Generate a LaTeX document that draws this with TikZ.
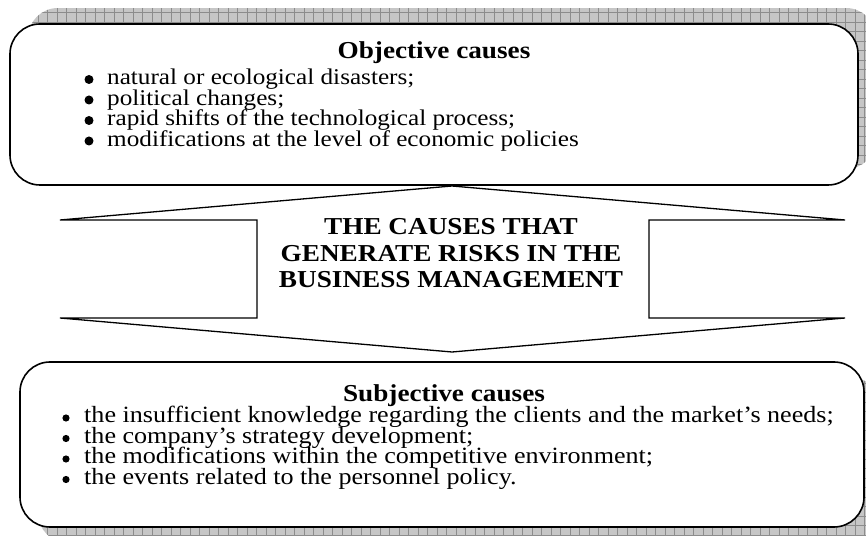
\documentclass[tikz,border=0pt]{standalone}
\usepackage{fontspec}
\setmainfont[FakeStretch=1.12]{Liberation Serif}
\definecolor{CsGrid}{HTML}{C6C6C6}
\definecolor{CsLine}{HTML}{8C8C8C}

\begin{document}
\begin{tikzpicture}[
    x=1pt,y=1pt,
    causebox/.style={draw=black,line width=1.6pt,fill=white,rounded corners=30pt,inner sep=0pt},
    callout/.style={draw=black,line width=1.3pt,fill=white,line join=miter},
    head/.style={font=\fontsize{24.3}{26.5}\selectfont\bfseries,inner sep=0pt,anchor=base},
    item/.style={inner sep=0pt,anchor=base west}
  ]
    \useasboundingbox (0,0) rectangle (866,535);
    % gridded shadows behind the two boxes
    \begin{scope}
      \clip (0,0) rectangle (866,535);
      \foreach \sx/\sy/\ex/\ey in {28/366/876/527, 38/-8/882/157}{
        \begin{scope}
          \clip[rounded corners=30pt] (\sx,\sy) rectangle (\ex,\ey);
          \fill[CsGrid] (\sx,\sy) rectangle (\ex,\ey);
          \draw[CsLine,line width=0.5pt,step=9.5pt] (\sx,\sy) grid (\ex,\ey);
        \end{scope}
      }
    \end{scope}
    % boxes
    \node[causebox,minimum width=848pt,minimum height=161pt] (obj) at (434,430.5) {};
    \node[causebox,minimum width=844pt,minimum height=165pt] (subj) at (442,90.5) {};
    % double arrow in the middle
    \draw[callout] (452,349) -- (845,315) -- (649,315) -- (649,217) -- (845,217) -- (452,183)
      -- (60,217) -- (257,217) -- (257,315) -- (60,315) -- cycle;
    \foreach \ln [count=\k] in {THE CAUSES THAT, GENERATE RISKS IN THE, BUSINESS MANAGEMENT}
      \node[head] (title-\k) at (451,326.5-26.5*\k) {\ln};
    % objective causes
    \node[head] (objhead) at (434,476) {Objective causes};
    \foreach \ln [count=\k] in {{natural or ecological disasters;}, {political changes;},
        {rapid shifts of the technological process;}, {modifications at the level of economic policies}}{
      \pgfmathsetmacro{\yb}{470.5-20.5*\k}
      \fill (89,\yb+5.5) circle (4.5pt);
      \node[item,font=\fontsize{22.5}{20}\selectfont] (obj-\k) at (107,\yb) {\ln};
    }
    % subjective causes
    \node[head] (subjhead) at (444,133) {Subjective causes};
    \foreach \ln [count=\k] in {{the insufficient knowledge regarding the clients and the market’s needs;},
        {the company’s strategy development;}, {the modifications within the competitive environment;},
        {the events related to the personnel policy.}}{
      \pgfmathsetmacro{\yb}{132.5-20.5*\k}
      \fill (66,\yb+5) circle (3.6pt);
      \node[item,font=\fontsize{23.3}{20}\selectfont] (subj-\k) at (84,\yb) {\ln};
    }
  \end{tikzpicture}
\end{document}
